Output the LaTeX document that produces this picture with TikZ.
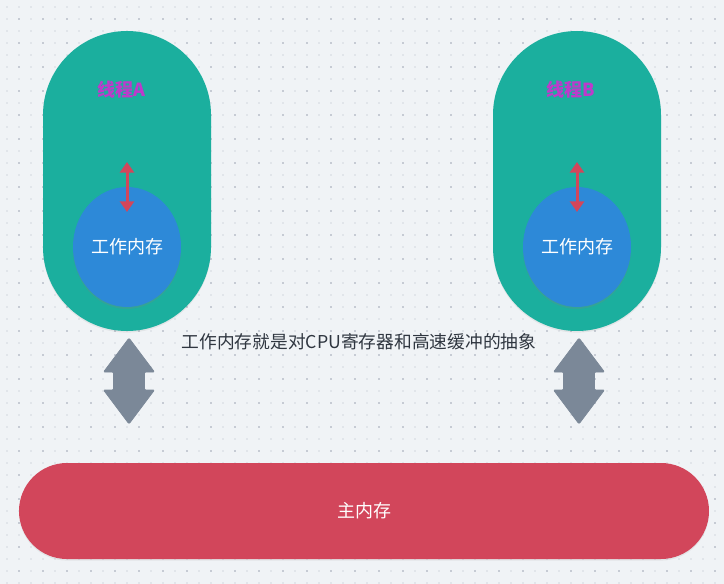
\documentclass[tikz,border=0pt]{standalone}
\usepackage{fontspec}
\setmainfont{Noto Sans CJK SC}
\usetikzlibrary{shapes.geometric,arrows.meta,shadows}
\definecolor{bgc}{HTML}{F0F3F6}
\definecolor{dotlight}{HTML}{E1E5EA}
\definecolor{dotdark}{HTML}{C6CBD4}
\definecolor{tealc}{HTML}{1BAF9E}
\definecolor{bluec}{HTML}{2D89D8}
\definecolor{redc}{HTML}{D2465B}
\definecolor{grayc}{HTML}{7B8898}
\definecolor{purplec}{HTML}{BD3ACB}
\definecolor{textc}{HTML}{2F3640}
\tikzset{
  threadpill/.style={fill=tealc, draw=none, rounded corners=63pt, minimum width=126pt, minimum height=225pt, inner sep=0pt,
    drop shadow={opacity=0.12, shadow xshift=0pt, shadow yshift=-1.2pt}},
  workmem/.style={ellipse, fill=bluec, draw=none, minimum width=81pt, minimum height=90pt, inner sep=0pt,
    text=white, font=\fontsize{13.5pt}{16pt}\selectfont,
    drop shadow={opacity=0.25, shadow xshift=0pt, shadow yshift=-1.5pt}},
  threadlabel/.style={text=purplec, font=\fontsize{13.5pt}{16pt}\selectfont\bfseries, inner sep=0pt},
  mainmem/.style={fill=redc, draw=none, rounded corners=36pt, minimum width=517.5pt, minimum height=72pt, inner sep=0pt,
    text=white, font=\fontsize{13.5pt}{16pt}\selectfont,
    drop shadow={opacity=0.12, shadow xshift=0pt, shadow yshift=-1.2pt}},
  syncarrow/.style={draw=redc, line width=2.25pt, {Triangle[width=10.5pt,length=8pt]}-{Triangle[width=10.5pt,length=8pt]}},
  bigarrow/.style={fill=grayc, draw=grayc, line width=0.5pt, rounded corners=0.8pt},
  note/.style={text=textc, font=\fontsize{13.3pt}{15pt}\selectfont, inner sep=0pt}
}
\begin{document}
\begin{tikzpicture}[x=0.75pt,y=-0.75pt]
\useasboundingbox (0,0) rectangle (724,584);
\fill[bgc] (0,0) rectangle (724,584);
% dotted grid
\foreach \i in {0,...,60}{
  \foreach \j in {0,...,48}{
    \fill[dotlight] ({6.7+12*\i-1},{6.7+12*\j-1}) rectangle ++(2,2);
  }
}
\foreach \i in {0,...,29}{
  \foreach \j in {0,...,23}{
    \fill[dotdark] ({18.7+24*\i-1},{18.7+24*\j-1}) rectangle ++(2,2);
  }
}
% threads
\node[threadpill] (threadA) at (127,181) {};
\node[threadpill] (threadB) at (577,181) {};
\node[threadlabel] (labelA) at (121,90) {线程A};
\node[threadlabel] (labelB) at (571,90) {线程B};
\node[workmem] (wmA) at (127,247) {工作内存};
\node[workmem] (wmB) at (577,247) {工作内存};
\coordinate (topA) at (127,162);
\coordinate (botA) at (127,212);
\coordinate (topB) at (577,162);
\coordinate (botB) at (577,212);
\draw[syncarrow] (topA) -- (botA);
\draw[syncarrow] (topB) -- (botB);
% note
\node[note] (note) at (359,342) {工作内存就是对CPU寄存器和高速缓冲的抽象};
% big gray double arrows
\foreach \cx in {129,579}{
  \filldraw[bigarrow] (\cx,338) -- (\cx+25.5,372) -- (\cx+15.5,372) -- (\cx+15.5,390) -- (\cx+25.5,390)
    -- (\cx,424) -- (\cx-25.5,390) -- (\cx-15.5,390) -- (\cx-15.5,372) -- (\cx-25.5,372) -- cycle;
}
% main memory
\node[mainmem] (mainmem) at (364,511) {主内存};
\end{tikzpicture}
\end{document}
